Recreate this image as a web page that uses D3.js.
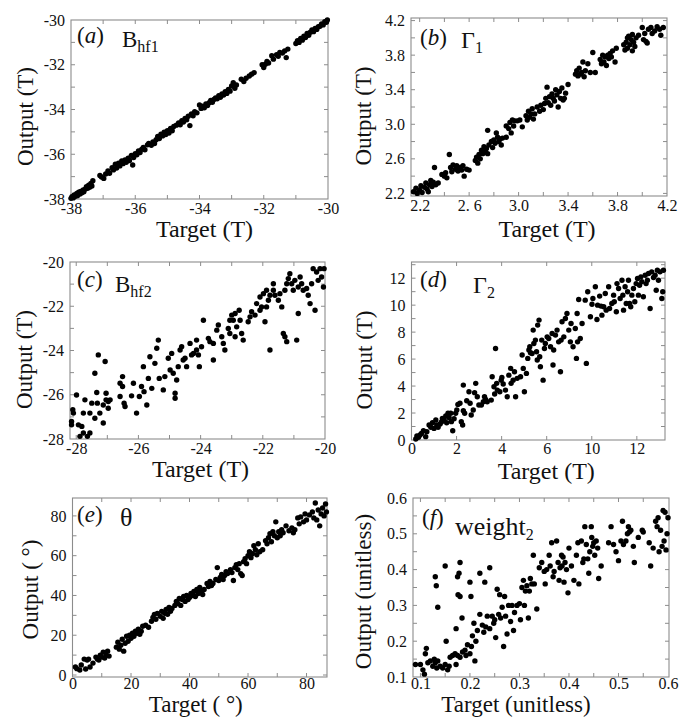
<!DOCTYPE html>
<html><head><meta charset="utf-8">
<script src="https://cdn.jsdelivr.net/npm/d3@7/dist/d3.min.js"></script>
<style>
body{margin:0;background:#fff;}
svg text{font-family:"Liberation Serif","Times New Roman",serif;fill:#111;}
</style></head><body>
<svg id="chart" width="680" height="717"></svg>
<script>
// ---------- DATA: [target, output] pairs per panel ----------
const dataA = [[-38.0,-37.97],[-37.97,-37.9],[-37.93,-37.95],[-37.9,-37.82],[-37.86,-37.88],[-37.82,-37.75],[-37.8,-37.85],[-37.76,-37.7],[-37.72,-37.78],[-37.7,-37.66],[-37.66,-37.72],[-37.62,-37.6],[-37.6,-37.68],[-37.55,-37.55],[-37.52,-37.45],[-37.48,-37.52],[-37.45,-37.38],[-37.42,-37.47],[-37.38,-37.3],[-37.35,-37.42],[-37.32,-37.18],
[-37.1,-36.95],[-37.05,-37.02],[-36.98,-37.08],[-36.92,-36.88],[-36.85,-36.75],[-36.8,-36.85],[-36.72,-36.6],[-36.68,-36.7],[-36.62,-36.45],[-36.58,-36.62],[-36.52,-36.4],[-36.48,-36.52],[-36.42,-36.3],[-36.38,-36.42],[-36.32,-36.25],[-36.28,-36.36],[-36.22,-36.18],[-36.18,-36.28],[-36.12,-36.05],[-36.08,-36.48],[-36.05,-36.15],[-36.0,-35.98],[-35.95,-36.02],[-35.9,-35.85],[-35.85,-35.92],[-35.8,-35.78],[-35.75,-35.7],[-35.7,-35.8],[-35.62,-35.58],[-35.58,-35.52],[-35.5,-35.6],[-35.45,-35.45],[-35.4,-35.52],[-35.35,-35.35],[-35.3,-35.2],[-35.25,-35.3],[-35.2,-35.1],[-35.15,-35.18],[-35.1,-35.02],[-35.05,-35.12],[-35.0,-34.95],[-34.95,-35.05],[-34.9,-34.85],[-34.85,-34.95],[-34.8,-34.76],[-34.72,-34.7],[-34.65,-34.6],[-34.6,-34.68],[-34.55,-34.5],[-34.5,-34.56],[-34.45,-34.4],[-34.4,-34.46],[-34.35,-34.3],[-34.3,-34.72],[-34.25,-34.2],[-34.2,-34.28],[-34.15,-34.1],[-34.08,-34.15],[-34.0,-33.8],[-33.95,-33.95],[-33.9,-33.85],[-33.85,-33.92],[-33.8,-33.75],[-33.75,-33.82],[-33.7,-33.7],[-33.65,-33.6],[-33.6,-33.68],[-33.55,-33.55],[-33.5,-33.48],[-33.45,-33.52],[-33.4,-33.38],[-33.35,-33.45],[-33.3,-33.3],[-33.25,-33.35],[-33.2,-33.2],[-33.15,-33.28],[-33.1,-33.1],[-33.05,-33.18],[-33.0,-32.95],[-32.95,-32.8],[-32.9,-33.05],[-32.85,-32.9],
[-32.7,-32.65],[-32.62,-32.75],[-32.55,-32.6],[-32.45,-32.5],[-32.38,-32.42],[-32.3,-32.35],
[-32.05,-32.0],[-32.0,-32.12],[-31.95,-31.98],[-31.9,-31.85],[-31.85,-31.92],[-31.75,-31.6],[-31.7,-31.75],[-31.6,-31.55],[-31.55,-31.62],[-31.5,-31.45],[-31.42,-31.48],[-31.35,-31.38],[-31.3,-31.68],[-31.25,-31.3],
[-31.0,-31.05],[-30.95,-30.92],[-30.9,-31.0],[-30.85,-30.82],[-30.8,-30.9],[-30.75,-30.72],[-30.7,-30.78],[-30.65,-30.6],[-30.6,-30.68],[-30.55,-30.55],[-30.5,-30.45],[-30.45,-30.52],[-30.4,-30.38],[-30.35,-30.42],[-30.3,-30.3],[-30.25,-30.28],[-30.2,-30.18],[-30.15,-30.22],[-30.1,-30.08],[-30.05,-30.1],[-30.02,-30.0]];

const dataB = [[2.15,2.22],[2.17,2.26],[2.18,2.2],[2.2,2.24],[2.21,2.29],[2.22,2.21],[2.24,2.27],[2.25,2.32],[2.26,2.25],[2.27,2.22],[2.28,2.3],[2.29,2.35],[2.3,2.28],[2.31,2.33],[2.32,2.5],[2.33,2.3],[2.35,2.32],[2.38,2.42],[2.4,2.4],[2.41,2.44],[2.42,2.38],[2.44,2.65],[2.45,2.5],[2.46,2.45],[2.47,2.53],[2.49,2.48],[2.5,2.52],[2.51,2.46],[2.53,2.5],[2.54,2.47],[2.55,2.52],[2.56,2.4],[2.58,2.48],[2.6,2.47],
[2.65,2.58],[2.66,2.62],[2.67,2.55],[2.68,2.65],[2.69,2.6],[2.7,2.7],[2.71,2.66],[2.72,2.74],[2.73,2.68],[2.74,2.72],[2.75,2.93],[2.75,2.66],[2.76,2.76],[2.78,2.8],[2.79,2.73],[2.8,2.82],[2.81,2.78],[2.82,2.9],[2.83,2.85],[2.84,2.8],[2.85,2.83],[2.86,2.76],[2.87,2.84],
[2.9,2.98],[2.9,2.85],[2.92,2.95],[2.93,3.02],[2.94,2.9],[2.95,3.05],[2.96,2.98],[2.97,3.04],[2.99,3.04],[3.01,3.05],[3.03,2.97],
[3.06,3.1],[3.07,3.05],[3.08,3.15],[3.09,3.08],[3.1,3.12],[3.11,3.18],[3.12,3.06],[3.13,3.12],[3.15,3.2],[3.17,3.15],[3.18,3.22],[3.2,3.17],[3.21,3.24],[3.22,3.3],[3.23,3.43],[3.24,3.25],[3.25,3.32],[3.26,3.22],[3.27,3.35],[3.28,3.3],[3.29,3.27],[3.3,3.4],[3.31,3.34],[3.32,3.2],[3.33,3.38],[3.34,3.3],[3.35,3.42],[3.36,3.28],[3.37,3.3],[3.38,3.36],[3.4,3.46],
[3.46,3.58],[3.47,3.62],[3.48,3.56],[3.49,3.65],[3.5,3.58],[3.51,3.6],[3.52,3.72],[3.53,3.55],[3.54,3.62],[3.56,3.7],[3.58,3.6],[3.6,3.83],[3.62,3.6],
[3.66,3.75],[3.67,3.7],[3.68,3.8],[3.69,3.72],[3.7,3.78],[3.71,3.68],[3.72,3.8],[3.73,3.76],[3.74,3.82],[3.75,3.78],[3.76,3.85],[3.78,3.72],[3.79,3.88],
[3.85,3.92],[3.86,3.86],[3.87,3.95],[3.88,4.0],[3.88,3.88],[3.89,4.02],[3.9,3.92],[3.91,3.98],[3.92,3.85],[3.92,4.04],[3.93,3.95],[3.94,3.9],[3.95,4.0],[3.97,4.03],
[4.0,4.12],[4.01,3.98],[4.02,4.05],[4.03,3.96],[4.04,3.94],[4.05,4.1],[4.07,4.12],[4.08,4.05],[4.1,4.08],[4.12,4.13],[4.14,4.1],[4.15,4.03],[4.17,4.12]];

const dataC = [[-28.15,-27.36],[-28.15,-27.21],[-28.11,-26.68],[-28.09,-26.83],[-27.99,-26.01],[-27.93,-27.36],[-27.82,-27.43],[-27.88,-27.88],[-27.77,-27.73],[-27.77,-26.83],[-27.72,-26.23],[-27.64,-27.88],[-27.56,-27.73],[-27.56,-26.83],[-27.5,-26.38],[-27.4,-25.03],[-27.4,-27.06],[-27.34,-25.9],[-27.32,-26.38],[-27.29,-24.2],[-27.24,-26.83],[-27.13,-26.46],[-27.07,-24.5],[-27.04,-26.23],[-27.04,-25.93],[-26.97,-26.31],[-26.91,-26.23],[-26.97,-26.61],[-27.13,-27.28],
[-26.59,-25.48],[-26.59,-26.08],[-26.51,-25.18],[-26.51,-25.63],[-26.46,-26.38],[-26.43,-26.53],[-26.22,-26.05],[-26.16,-25.48],[-26.06,-26.83],[-25.97,-26.08],[-25.9,-25.63],[-25.84,-24.73],[-25.82,-25.86],[-25.73,-26.46],[-25.68,-25.26],[-25.57,-25.71],[-25.63,-24.28],[-25.47,-24.58],[-25.41,-23.9],[-25.36,-23.53],[-25.33,-25.26],[-25.2,-25.78],[-25.15,-25.18],[-24.98,-24.88],[-25.04,-24.35],[-24.93,-24.13],[-24.88,-25.03],[-24.82,-26.16],[-24.82,-25.93],[-24.77,-25.33],[-24.72,-24.73],[-24.66,-23.98],[-24.61,-23.83],[-24.56,-24.43],[-24.5,-24.35],[-24.45,-24.73],[-24.34,-23.68],[-24.29,-24.2],[-24.23,-24.13],[-24.13,-23.53],[-24.13,-23.98],[-24.07,-24.2],[-24.04,-24.73],[-23.97,-23.83],[-23.91,-22.63],
[-23.75,-23.45],[-23.7,-23.6],[-23.59,-23.68],[-23.59,-24.43],[-23.48,-23.08],[-23.43,-22.85],[-23.32,-23.38],[-23.27,-23.68],[-23.22,-23.98],[-23.11,-23.0],[-23.06,-23.23],[-23.06,-22.63],[-23.0,-22.4],[-22.95,-22.63],[-22.89,-22.33],[-22.89,-23.38],[-22.84,-22.93],[-22.76,-22.18],[-22.73,-22.63],[-22.68,-23.23],[-22.63,-23.53],[-22.47,-22.7],[-22.41,-22.48],[-22.36,-22.25],[-22.25,-22.4],[-22.2,-21.88],[-22.09,-21.58],[-22.09,-22.18],[-22.04,-22.03],[-21.98,-21.43],[-21.93,-22.7],[-21.88,-21.28],[-21.88,-22.03],[-21.82,-21.73],[-21.77,-21.5],[-21.77,-23.98],
[-21.66,-20.98],[-21.66,-21.28],[-21.61,-21.5],[-21.5,-21.73],[-21.45,-21.43],[-21.39,-22.03],[-21.34,-23.23],[-21.29,-23.38],[-21.23,-23.6],[-21.29,-21.28],[-21.23,-20.98],[-21.18,-20.75],[-21.13,-20.53],[-21.07,-20.98],[-21.02,-21.28],[-20.97,-20.83],[-20.91,-23.53],[-20.86,-22.33],[-20.86,-21.13],[-20.8,-20.68],[-20.75,-20.98],[-20.7,-21.28],[-20.59,-21.2],[-20.54,-21.5],[-20.48,-21.88],[-20.43,-20.98],[-20.38,-20.3],[-20.32,-22.18],[-20.27,-20.45],[-20.22,-20.83],[-20.16,-20.3],[-20.11,-20.68],[-20.05,-21.13],[-20.03,-20.3]];

const dataD = [[0.19,0.07],[0.24,0.3],[0.31,0.2],[0.38,0.37],[0.44,0.49],[0.53,0.69],[0.63,0.25],[0.68,0.62],[0.78,1.11],[0.86,0.94],[0.93,1.28],[1.0,0.86],[1.08,1.48],[1.12,1.11],[1.18,0.94],[1.27,1.19],[1.33,1.33],[1.37,1.6],[1.45,1.48],[1.52,1.78],[1.56,1.28],[1.62,1.98],[1.67,1.65],[1.74,1.98],[1.77,1.36],[1.83,0.69],[1.89,1.58],[1.96,1.98],[2.01,2.22],[2.06,2.64],[2.15,2.72],[2.21,1.36],[2.27,1.11],[2.3,2.17],[2.36,1.98],[2.3,4.07],[2.45,2.91],[2.55,3.58],[2.6,2.72],[2.65,1.85],[2.74,2.22],[2.8,3.51],[2.85,4.2],[2.92,3.21],[2.99,2.59],[3.1,2.59],[3.19,2.84],[3.24,3.21],[3.29,3.01],[3.36,2.84],[3.54,2.96],[3.58,4.69],[3.66,3.95],[3.69,3.41],[3.73,6.79],[3.78,4.2],[3.81,3.7],[3.92,3.58],[3.98,4.44],[4.01,4.64],[4.07,4.15],[4.17,3.7],[4.25,3.21],[4.32,4.81],[4.4,5.31],[4.42,4.2],[4.51,4.44],[4.57,5.06],[4.62,3.21],[4.69,4.57],[4.84,4.69],[4.91,6.3],[4.96,5.31],[5.01,3.58],[5.1,4.94],[5.16,6.05],[5.21,6.67],[5.25,6.91],[5.28,6.47],[5.35,6.42],[5.4,8.15],[5.43,7.16],[5.5,7.41],[5.55,6.54],[5.58,5.93],[5.6,8.52],[5.66,8.89],[5.69,6.17],[5.72,5.43],[5.78,7.41],[5.84,4.44],[5.9,6.79],[5.94,7.16],[6.02,7.65],[6.09,7.53],[6.17,6.91],[6.24,7.9],[6.28,5.56],[6.31,6.67],[6.39,7.78],[6.46,8.15],[6.53,7.28],[6.61,5.06],[6.64,7.41],[6.68,8.77],[6.76,7.65],[6.83,9.01],[6.9,9.38],[6.98,8.15],[7.05,7.28],[7.08,8.64],[7.17,6.91],[7.27,8.27],[7.32,6.05],[7.35,9.38],[7.37,7.28],[7.42,10.42],[7.49,7.53],[7.57,8.64],[7.71,10.37],[7.76,5.68],[7.82,10.99],[7.94,9.14],[8.01,10.07],[8.05,10.49],[8.16,11.36],[8.23,8.94],[8.26,10.0],[8.35,10.67],[8.41,9.93],[8.45,9.26],[8.53,9.88],[8.6,10.86],[8.64,9.63],[8.75,11.36],[8.79,9.75],[8.89,10.12],[8.97,10.74],[9.0,10.25],[9.09,9.51],[9.12,11.6],[9.19,11.23],[9.26,10.49],[9.34,11.85],[9.38,10.74],[9.41,9.63],[9.48,11.36],[9.53,10.12],[9.59,10.99],[9.63,11.85],[9.68,10.12],[9.73,9.88],[9.78,10.74],[9.85,11.23],[9.91,10.25],[9.97,11.6],[10.03,11.98],[10.07,10.74],[10.12,11.48],[10.18,12.1],[10.22,11.73],[10.29,10.62],[10.37,12.22],[10.41,11.6],[10.47,11.85],[10.52,12.35],[10.59,9.75],[10.66,12.47],[10.74,12.05],[10.81,12.22],[10.86,11.11],[10.91,12.59],[10.96,11.85],[11.03,12.47],[11.11,10.49],[11.15,10.99],[11.18,12.59]];

const dataE = [[1,4],[1.5,3.2],[2.5,2.5],[3,5],[4,8],[4.5,3],[5,7.5],[5.5,8],[6,4],[7,6],[8,9],[8.5,8],[9,7.5],[9.5,10],[10,9],[10.5,11.5],[11,8.5],[11.5,10],[12,12],[12.5,9.5],
[15,14],[15.5,16.5],[16,13],[16.5,15],[17,18],[17.5,12],[18,16],[18.5,19.5],[19,17],[19.5,20],[20,18.5],[20.5,21],[21,19.5],[21.5,22],[22,21],[22.5,23],[23,20.5],[23.5,22],[24,24.5],[25,25],[26,24],
[27,27],[27.5,29],[28,30.5],[28.5,28],[29,31],[30,29.5],[30.5,32],[31,28.5],[31.5,31],[32,33],[32.5,30.5],[33,34],[33.5,32],[34,33.5],
[35,35],[35.5,37],[36,36],[36.5,38.5],[37,35],[37.5,38],[38,39.5],[38.5,37],[39,40],[39.5,38],[40,39],[40.5,41],[41,40],[41.5,42],[42,39.5],[42.5,43],[43,41],[43.5,44],[44,42.5],[44.5,40.5],
[45,43],[46,46],[46.5,44.5],[47,47],[47.5,45],[48,46],[49,48],[49.5,54],[50,47.5],[50.5,49],[51,50.5],[51.5,48],[52,50],[52.5,52],[53,51],[54,53],[54.5,51.5],[55,47.5],[55.5,54],[56,55.5],[56.5,53],[57,56],[57.5,51],[58,50],[58.5,57],[59,58.5],[59.5,56],
[60,60],[60.5,62],[61,59],[61.5,61],[62,65],[62.5,63],[63,60.5],[63.5,66],[64,62],[65,63],[66,67.5],[66.5,66],[67,69],[67.5,71],[68,67],[68.5,72],[69,70],[69.5,77],[70,69],[70.5,72],[71,70],[71.5,73],[72,71.5],[73,75],[74,72.5],[75,74],[75.5,71.5],[76,73],[77,79],[77.5,76],[78,79.5],[79,77],[79.5,81],[80,78],[81,80.5],[82,82],[82.5,79],[83,86.5],[83.5,78],[84,83],[84.5,75],[85,81],[85.5,84],[86,80],[86.5,86],[86.8,82]];

const dataF = [[0.09,0.135],[0.1,0.135],[0.105,0.12],[0.108,0.108],[0.11,0.165],[0.112,0.18],[0.115,0.14],[0.12,0.145],[0.125,0.13],[0.128,0.15],[0.13,0.14],[0.133,0.125],[0.135,0.145],[0.14,0.13],[0.145,0.125],[0.15,0.135],[0.155,0.12],[0.158,0.13],[0.16,0.155],[0.165,0.16],[0.17,0.165],[0.172,0.135],[0.175,0.16],[0.18,0.155],[0.185,0.17],[0.19,0.175],[0.192,0.16],[0.195,0.19],[0.2,0.165],[0.203,0.185],
[0.13,0.38],[0.132,0.355],[0.135,0.295],[0.15,0.41],[0.152,0.2],[0.172,0.235],[0.175,0.38],[0.178,0.39],[0.18,0.42],[0.176,0.33],[0.18,0.325],[0.184,0.265],[0.2,0.365],[0.202,0.325],[0.21,0.145],[0.22,0.39],[0.23,0.365],[0.24,0.405],
[0.205,0.215],[0.208,0.25],[0.212,0.2],[0.215,0.23],[0.22,0.275],[0.225,0.245],[0.228,0.225],[0.232,0.24],[0.235,0.27],[0.24,0.235],[0.245,0.27],[0.248,0.25],[0.25,0.26],[0.252,0.21],[0.255,0.345],[0.258,0.275],[0.26,0.33],[0.262,0.265],[0.265,0.295],[0.268,0.185],[0.27,0.325],[0.272,0.27],[0.275,0.22],[0.278,0.3],[0.282,0.255],[0.285,0.3],[0.288,0.23],[0.29,0.28],[0.295,0.3],[0.3,0.305],[0.302,0.26],[0.305,0.35],[0.308,0.37],[0.31,0.3],[0.312,0.34],[0.315,0.355],[0.318,0.265],[0.32,0.34],[0.322,0.375],[0.325,0.36],[0.328,0.44],[0.33,0.36],[0.335,0.29],[0.34,0.405],[0.345,0.42],
[0.35,0.395],[0.352,0.36],[0.355,0.4],[0.36,0.44],[0.362,0.41],[0.365,0.475],[0.368,0.38],[0.37,0.395],[0.375,0.48],[0.378,0.42],[0.38,0.37],[0.382,0.405],[0.385,0.44],[0.386,0.41],[0.388,0.435],[0.39,0.365],[0.392,0.42],[0.395,0.4],[0.398,0.335],[0.4,0.46],[0.405,0.41],[0.41,0.37],[0.415,0.44],[0.418,0.475],[0.42,0.36],[0.425,0.48],[0.428,0.42],[0.43,0.43],[0.432,0.52],[0.435,0.47],[0.438,0.43],[0.44,0.39],[0.442,0.45],[0.445,0.52],[0.446,0.49],[0.448,0.465],[0.45,0.475],[0.452,0.44],[0.455,0.48],[0.458,0.46],[0.46,0.375],[0.465,0.41],
[0.48,0.475],[0.485,0.52],[0.49,0.47],[0.495,0.45],[0.5,0.425],[0.505,0.48],[0.508,0.535],[0.51,0.47],[0.515,0.48],[0.518,0.5],[0.52,0.52],[0.522,0.505],[0.525,0.51],[0.53,0.465],[0.532,0.42],[0.54,0.49],[0.548,0.51],[0.55,0.505],[0.562,0.475],[0.565,0.41],[0.57,0.46],[0.575,0.535],[0.578,0.52],[0.58,0.545],[0.582,0.45],[0.585,0.51],[0.588,0.465],[0.59,0.565],[0.592,0.48],[0.594,0.56],[0.596,0.455],[0.598,0.5],[0.6,0.545]];

// ---------- TICKS ----------
const ticksAx = [-38,-36,-34,-32,-30], ticksAy = [-38,-36,-34,-32,-30];
const ticksBx = [2.2,2.6,3.0,3.4,3.8,4.2], labelsBx = ["2.2","2. 6","3.0","3.4","3.8","4.2"];
const ticksBy = [2.2,2.6,3.0,3.4,3.8,4.2], labelsBy = ["2.2","2.6","3.0","3.4","3.8","4.2"];
const ticksCx = [-28,-26,-24,-22,-20], ticksCy = [-28,-26,-24,-22,-20];
const ticksDx = [0,2,4,6,8,10], labelsDx = ["0","2","4","6","10","12"];
const ticksDy = [0,2,4,6,8,10,12];
const ticksEx = [0,20,40,60,80], ticksEy = [0,20,40,60,80];
const ticksFx = [0.1,0.2,0.3,0.4,0.5,0.6], ticksFy = [0.1,0.2,0.3,0.4,0.5,0.6];

// ---------- LAYOUT ----------
const panels = [
 {data:dataA, frame:{x:71,y:20,w:257,h:179}, xd:[-38,-30], yd:[-38,-30], xt:ticksAx, yt:ticksAy, xm:1, ym:1, xPad:4, xtSize:24,
  lab:"a", labPos:[6,23], sym:"B", symSize:23, sub:"hf1", symPos:[51,27], xTitle:"Target (T)", yTitle:"Output (T)", xtOff:[5,38], ytOff:[-38,7]},
 {data:dataB, frame:{x:411,y:18,w:256,h:178}, xd:[2.13,4.2], yd:[2.17,4.23], xt:ticksBx, xl:labelsBx, yt:ticksBy, yl:labelsBy, xm:0.2, ym:0.2, xPad:4, xtSize:24,
  lab:"b", labPos:[9,27], sym:"Γ", symSize:24, sub:"1", symPos:[50,30], xTitle:"Target (T)", yTitle:"Output (T)", xtOff:[8,41], ytOff:[-40,9]},
 {data:dataC, frame:{x:70,y:262,w:255,h:177}, xd:[-28.2,-20], yd:[-28,-20], xt:ticksCx, yt:ticksCy, xm:1, ym:1, xPad:4, xtSize:24,
  lab:"c", labPos:[7,25], sym:"B", symSize:23, sub:"hf2", symPos:[45,30], xTitle:"Target (T)", yTitle:"Output (T)", xtOff:[3,38], ytOff:[-38,9]},
 {data:dataD, frame:{x:411.5,y:262,w:253.5,h:178}, xd:[0,11.25], yd:[0,13.2], xt:ticksDx, xl:labelsDx, yt:ticksDy, xm:2, ym:1, xPad:3, xtSize:24,
  lab:"d", labPos:[8.5,25], sym:"Γ", symSize:24, sub:"2", symPos:[61.5,31], xTitle:"Target (T)", yTitle:"Output (T)", xtOff:[8,39], ytOff:[-40,9]},
 {data:dataE, frame:{x:72.5,y:498,w:254.5,h:179}, xd:[0,87], yd:[-1,89], xt:ticksEx, yt:ticksEy, xm:10, ym:10, xPad:1, xtSize:23,
  lab:"e", labPos:[4.5,24], sym:"θ", symSize:26, sub:"", symPos:[47.5,28], xTitle:"Target ( °)", yTitle:"Output ( °)", xtOff:[-4,35], ytOff:[-35,2]},
 {data:dataF, frame:{x:413,y:498,w:256,h:179}, xd:[0.085,0.602], yd:[0.1,0.6], xt:ticksFx, yt:ticksFy, xm:0.05, ym:0.05, xPad:1, xtSize:23,
  lab:"f", labPos:[9,27], sym:"weight", symSize:26, sub:"2", symPos:[42,37], xTitle:"Target (unitless)", yTitle:"Output (unitless)", xtOff:[-25,35], ytOff:[-42,4]}
];

const svg = d3.select("#chart");
const frameColor = "#8c8c8c";

function stepTicks(dom, step){
  const lo = Math.min(dom[0],dom[1]), hi = Math.max(dom[0],dom[1]);
  const n0 = Math.ceil(lo/step - 1e-6), n1 = Math.floor(hi/step + 1e-6);
  return d3.range(n0, n1+1).map(i => +(i*step).toFixed(6));
}

panels.forEach(p => {
  const f = p.frame;
  const g = svg.append("g");
  const x = d3.scaleLinear().domain(p.xd).range([f.x, f.x+f.w]);
  const y = d3.scaleLinear().domain(p.yd).range([f.y+f.h, f.y]);

  // inward tick marks on all four sides
  const mx = stepTicks(p.xd, p.xm).filter(v => x(v) > f.x+1.5 && x(v) < f.x+f.w-1.5);
  const my = stepTicks(p.yd, p.ym).filter(v => y(v) > f.y+1.5 && y(v) < f.y+f.h-1.5);
  const tl = 4;
  g.append("g").selectAll("line").data(mx).join("line")
    .attr("x1", d=>x(d)).attr("x2", d=>x(d)).attr("y1", f.y+f.h).attr("y2", f.y+f.h-tl);
  g.append("g").selectAll("line").data(mx).join("line")
    .attr("x1", d=>x(d)).attr("x2", d=>x(d)).attr("y1", f.y).attr("y2", f.y+tl);
  g.append("g").selectAll("line").data(my).join("line")
    .attr("y1", d=>y(d)).attr("y2", d=>y(d)).attr("x1", f.x).attr("x2", f.x+tl);
  g.append("g").selectAll("line").data(my).join("line")
    .attr("y1", d=>y(d)).attr("y2", d=>y(d)).attr("x1", f.x+f.w).attr("x2", f.x+f.w-tl);
  g.selectAll("line").attr("stroke", frameColor).attr("stroke-width", 1);

  // frame
  g.append("rect").attr("x", f.x).attr("y", f.y).attr("width", f.w).attr("height", f.h)
    .attr("fill", "none").attr("stroke", frameColor).attr("stroke-width", 1.1);

  // tick labels via axes
  const ax = d3.axisBottom(x).tickValues(p.xt).tickSize(0).tickPadding(p.xPad)
    .tickFormat((d,i) => p.xl ? p.xl[i] : String(d));
  const axG = g.append("g").attr("transform", `translate(0,${f.y+f.h})`).call(ax);
  const ay = d3.axisLeft(y).tickValues(p.yt).tickSize(0).tickPadding(6)
    .tickFormat((d,i) => p.yl ? p.yl[i] : String(d));
  const ayG = g.append("g").attr("transform", `translate(${f.x},0)`).call(ay);
  [axG, ayG].forEach(a => {
    a.select(".domain").remove();
    a.selectAll("text").attr("font-size", 16).attr("fill", "#111");
  });

  // points
  g.append("g").selectAll("circle").data(p.data).join("circle")
    .attr("cx", d => x(d[0])).attr("cy", d => y(d[1])).attr("r", 2.7).attr("fill", "#000");

  // panel label
  const lt = g.append("text").attr("x", f.x+p.labPos[0]).attr("y", f.y+p.labPos[1]).attr("font-size", 23);
  lt.append("tspan").text("(");
  lt.append("tspan").attr("font-style", "italic").text(p.lab);
  lt.append("tspan").text(")");
  const st = g.append("text").attr("x", f.x+p.symPos[0]).attr("y", f.y+p.symPos[1]).attr("font-size", p.symSize);
  st.append("tspan").text(p.sym);
  if (p.sub) st.append("tspan").attr("font-size", 16).attr("dy", 5).text(p.sub);

  // axis titles
  g.append("text").attr("x", f.x+f.w/2+p.xtOff[0]).attr("y", f.y+f.h+p.xtOff[1])
    .attr("text-anchor", "middle").attr("font-size", p.xtSize).text(p.xTitle);
  g.append("text").attr("transform", `translate(${f.x+p.ytOff[0]},${f.y+f.h/2+p.ytOff[1]}) rotate(-90)`)
    .attr("text-anchor", "middle").attr("font-size", 23).text(p.yTitle);
});
</script>
</body></html>
